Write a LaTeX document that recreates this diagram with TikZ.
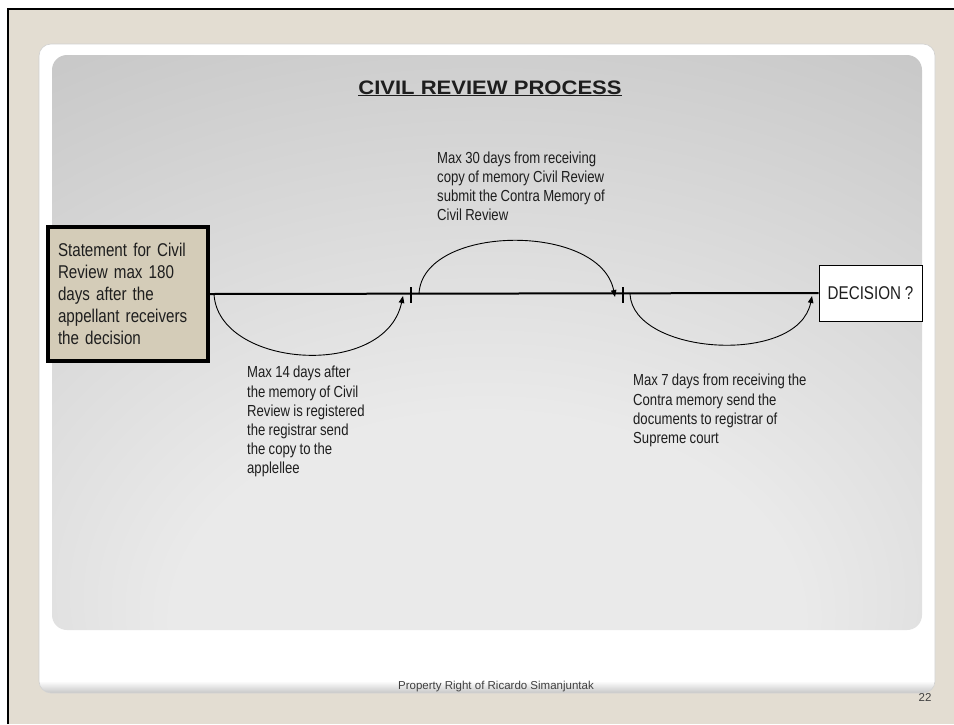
\documentclass[tikz,border=0pt]{standalone}
\usepackage{fontspec}
\setmainfont{Liberation Sans}
\newfontfamily\narrowfont[FakeStretch=0.82,WordSpace=0.9]{Liberation Sans}
\newfontfamily\widefont[FakeStretch=1.13]{Liberation Sans}
\usetikzlibrary{arrows.meta}

\definecolor{slidebg}{HTML}{E3DDD2}
\definecolor{boxtan}{HTML}{D4CCB8}
\definecolor{pnlA}{HTML}{EAEAEA}
\definecolor{pnlB}{HTML}{C2C2C2}
\definecolor{pnlC}{HTML}{999999}
\definecolor{ink}{HTML}{1E1E1E}

% light spot low in the middle, darker towards the corners
\pgfdeclareradialshading{panelshade}{\pgfpoint{0bp}{-32bp}}{%
  color(0bp)=(pnlA); color(18bp)=(pnlA); color(50bp)=(pnlB); color(75bp)=(pnlC)}

\tikzset{
  stmtbox/.style={draw=black, line width=4pt, fill=boxtan, text=ink,
    minimum width=160pt, minimum height=134pt, text width=140pt,
    inner xsep=10pt, inner ysep=0pt, align=left,
    font=\narrowfont\fontsize{18.5}{22}\selectfont},
  endbox/.style={draw=black, line width=1pt, fill=white, text=ink,
    minimum width=103pt, minimum height=56pt, inner sep=0pt,
    font=\narrowfont\fontsize{18.5}{22}\selectfont},
  note/.style={anchor=north west, inner sep=0pt, align=left, text=ink},
  mainline/.style={line width=2pt, black},
  tickmark/.style={line width=2pt, black},
  hop/.style={line width=0.9pt, black, -{Triangle[length=7pt,width=5.5pt]}},
}

\begin{document}
\begin{tikzpicture}[x=1pt,y=-1pt]
  \useasboundingbox (0,0) rectangle (954,724);
  % slide frame
  \fill[white] (0,0) rectangle (954,724);
  \fill[slidebg] (8,9) rectangle (954,724);
  \draw[line width=2.2pt] (8,724) -- (8,9) -- (954,9);

  % white card with a soft lower edge
  \fill[white, rounded corners=12pt] (39,44) rectangle (935,693);
  \begin{scope}
    \clip[rounded corners=12pt] (39,44) rectangle (935,693);
    \shade[top color=white, bottom color=black!22] (39,681) rectangle (935,693);
  \end{scope}
  \draw[black!18, line width=0.6pt, rounded corners=12pt] (39,44) rectangle (935,693);

  % grey content panel
  \shade[shading=panelshade, rounded corners=15pt] (52,55) rectangle (922,630);

  % title
  \node[text=ink, inner sep=0pt, anchor=base, font=\widefont\bfseries\fontsize{19.5}{24}\selectfont]
    (title) at (490,94) {\underline{CIVIL REVIEW PROCESS}};

  % start and end boxes
  \node[stmtbox] (stmt) at (128,294)
    {Statement for Civil\\Review max 180\\days after the\\appellant receivers\\the decision};
  \node[endbox] (dec) at (870.5,293) {DECISION ?};

  % time line with its two marks
  \draw[mainline] (stmt.east) -- (dec.west);
  \coordinate (t1a) at (411,287); \coordinate (t1b) at (411,303);
  \coordinate (t2a) at (623,287); \coordinate (t2b) at (623,303);
  \draw[tickmark] (t1a) -- (t1b);
  \draw[tickmark] (t2a) -- (t2b);

  % the three steps
  \coordinate (a1s) at (214,294); \coordinate (a1e) at (403,296);
  \coordinate (a2s) at (419,294); \coordinate (a2e) at (615,297);
  \coordinate (a3s) at (630,294); \coordinate (a3e) at (812,296);
  \draw[hop] (a1s) .. controls (218,368) and (385,380) .. (a1e);
  \draw[hop] (a2s) .. controls (422,224) and (600,222) .. (a2e);
  \draw[hop] (a3s) .. controls (633,355) and (798,366) .. (a3e);

  % step descriptions
  \node[note, font=\narrowfont\fontsize{16}{19}\selectfont] (n30) at (437,152)
    {Max 30 days from receiving\\copy of memory Civil Review\\submit the Contra Memory of\\Civil Review};
  \node[note, font=\narrowfont\fontsize{16}{19.2}\selectfont] (n14) at (247,366)
    {Max 14 days after\\the memory of Civil\\Review is registered\\the registrar send\\the copy to the\\applellee};
  \node[note, font=\narrowfont\fontsize{16}{19.3}\selectfont] (n7) at (633,374)
    {Max 7 days from receiving the\\Contra memory send the\\documents to registrar of\\Supreme court};

  % footer
  \node[text=ink!85, inner sep=0pt, font=\fontsize{11.5}{13}\selectfont]
    (foot) at (496,687) {Property Right of Ricardo Simanjuntak};
  \node[text=ink!85, inner sep=0pt, font=\fontsize{11.5}{13}\selectfont]
    (pageno) at (925,697) {22};
\end{tikzpicture}
\end{document}
